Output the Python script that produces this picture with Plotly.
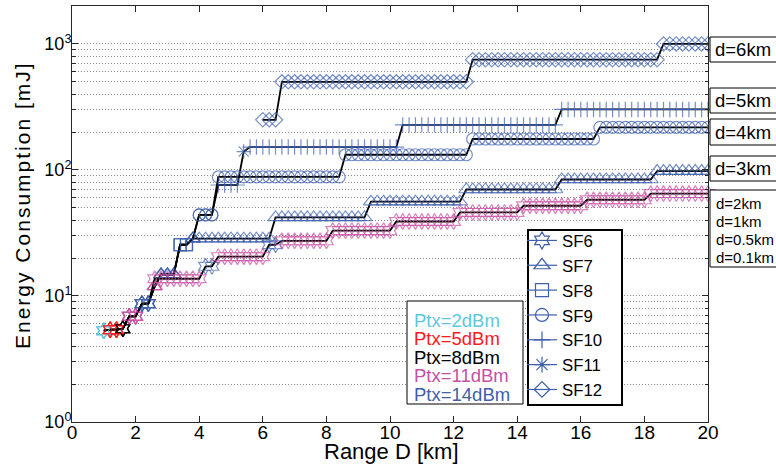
import math
import plotly.graph_objects as go

# ---------------- data ----------------
# range grid, km (one sample every 0.2 km)
D = [round(1.0 + 0.2 * i, 1) for i in range(96)]

# shared single-hop start (all curves)
common_start = [1.0, 1.2, 1.6, 1.8, 2.2]
common_end = [1.0, 1.4, 1.6, 2.0, 2.4]
common_E = [5.3, 5.4, 5.5, 6.9, 8.7]
common_sf = [6, 6, 6, 6, 6]
common_ptx = [2, 5, 8, 11, 14]

# curves d = 2, 1, 0.5, 0.1 km (coincide)
base_start = [2.6, 4.2, 4.6, 6.2, 6.6, 8.2, 10.2, 12.2, 14.2, 16.2, 18.2]
base_end = [4.0, 4.4, 6.0, 6.4, 8.0, 10.0, 12.0, 14.0, 16.0, 18.0, 20.0]
base_E = [13.7, 17.2, 20.5, 25.5, 27.4, 33, 39, 46, 52, 58, 65]
base_sf = [6, 6, 6, 6, 6, 6, 6, 6, 6, 6, 6]
base_ptx = [11, 14, 11, 14, 11, 11, 11, 11, 11, 11, 11]

# single-hop part shared by d >= 3 km
sh_start = [2.6, 2.8, 3.4]
sh_end = [2.6, 3.2, 3.6]
sh_E = [11.9, 14.8, 25.5]
sh_sf = [7, 7, 8]
sh_ptx = [11, 14, 14]

d3_start = [3.8, 6.4, 9.4, 12.4, 15.4, 18.4]
d3_end = [6.2, 9.2, 12.2, 15.2, 18.2, 20.0]
d3_E = [28.5, 42, 56, 70, 84, 98]
d3_sf = [7, 7, 7, 7, 7, 7]
d3_ptx = [14, 14, 14, 14, 14, 14]

d4_start = [3.8, 4.0, 4.6, 8.6, 12.6, 16.6]
d4_end = [3.8, 4.4, 8.4, 12.4, 16.4, 20.0]
d4_E = [28.5, 44, 88, 132, 176, 218]
d4_sf = [7, 9, 9, 9, 9, 9]
d4_ptx = [14, 14, 14, 14, 14, 14]

d5_start = [3.8, 4.0, 4.6, 5.4, 5.6, 10.4, 15.4]
d5_end = [3.8, 4.4, 5.2, 5.4, 10.2, 15.2, 20.0]
d5_E = [28.5, 44, 76, 140, 152, 228, 302]
d5_sf = [7, 9, 10, 11, 10, 10, 10]
d5_ptx = [14, 14, 14, 14, 14, 14, 14]

d6_start = [6.0, 6.6, 12.6, 18.6]
d6_end = [6.4, 12.4, 18.4, 20.0]
d6_E = [250, 500, 750, 1000]
d6_sf = [12, 12, 12, 12]
d6_ptx = [14, 14, 14, 14]

sf_names = ["SF6", "SF7", "SF8", "SF9", "SF10", "SF11", "SF12"]
ptx_labels = ["Ptx=2dBm", "Ptx=5dBm", "Ptx=8dBm", "Ptx=11dBm", "Ptx=14dBm"]
d_labels = ["d=6km", "d=5km", "d=4km", "d=3km"]
d_small_labels = ["d=2km", "d=1km", "d=0.5km", "d=0.1km"]

# ---------------- styles ----------------
PTX_COLOR = {2: "#5cc8dc", 5: "#ff1a1a", 8: "#000000", 11: "#c650a2", 14: "#3f5fac"}
SF_SYMBOL = {6: "hexagram-open", 7: "triangle-up-open", 8: "square-open",
             9: "circle-open", 10: "cross-thin-open", 11: "asterisk-open",
             12: "diamond-open"}
SF_SIZE = {6: 12, 7: 13, 8: 12, 9: 12, 10: 11, 11: 12, 12: 11}
BLUE = PTX_COLOR[14]
FONT = "Liberation Sans, Arial, sans-serif"


def expand(*segsets):
    xs, ys, sfs, pts = [], [], [], []
    for starts, ends, es, sfl, ptl in segsets:
        for s, e, en, sf, pt in zip(starts, ends, es, sfl, ptl):
            for x in D:
                if s - 1e-9 <= x <= e + 1e-9:
                    xs.append(x); ys.append(en); sfs.append(sf); pts.append(pt)
    return xs, ys, sfs, pts


common = (common_start, common_end, common_E, common_sf, common_ptx)
shared = (sh_start, sh_end, sh_E, sh_sf, sh_ptx)
curves = [
    expand((d6_start, d6_end, d6_E, d6_sf, d6_ptx)),
    expand(common, shared, (d5_start, d5_end, d5_E, d5_sf, d5_ptx)),
    expand(common, shared, (d4_start, d4_end, d4_E, d4_sf, d4_ptx)),
    expand(common, shared, (d3_start, d3_end, d3_E, d3_sf, d3_ptx)),
    expand(common, (base_start, base_end, base_E, base_sf, base_ptx)),
]

fig = go.Figure()
for xs, ys, sfs, pts in curves:
    fig.add_trace(go.Scatter(
        x=xs, y=ys, mode="lines+markers", showlegend=False, cliponaxis=False,
        line=dict(color="black", width=1.8),
        marker=dict(symbol=[SF_SYMBOL[s] for s in sfs],
                    size=[SF_SIZE[s] for s in sfs],
                    color=[PTX_COLOR[p] for p in pts],
                    line=dict(width=1.2)),
    ))

for name, sf in zip(sf_names, range(6, 13)):
    fig.add_trace(go.Scatter(
        x=[None], y=[None], mode="lines+markers", name=name,
        line=dict(color=BLUE, width=1.2),
        marker=dict(symbol=SF_SYMBOL[sf], size=SF_SIZE[sf] + 1, color=BLUE,
                    line=dict(width=1.2)),
    ))

# ---------------- layout ----------------
L, R, T, B = 72, 708, 6, 422
W, H = R - L, B - T


def fx(px):
    return (px - L) / W


def fy(py):
    return (B - py) / H


AX = "#262626"
GRID = "#8a8a8a"
fig.update_layout(
    width=776, height=465,
    margin=dict(l=L, r=776 - R, t=T, b=465 - B),
    paper_bgcolor="white", plot_bgcolor="white",
    font=dict(family=FONT, color="black"),
    xaxis=dict(range=[0, 20], dtick=2, tick0=0, showgrid=False, zeroline=False,
               showline=True, linecolor=AX, linewidth=1, mirror="ticks",
               ticks="inside", ticklen=6, tickcolor=AX, ticklabelstandoff=-7,
               tickfont=dict(size=19, family=FONT)),
    yaxis=dict(type="log", range=[0, math.log10(2000)],
               tickvals=[1, 10, 100, 1000],
               ticktext=["10<sup>0</sup>", "10<sup>1</sup>", "10<sup>2</sup>", "10<sup>3</sup>"],
               showgrid=True, gridcolor=GRID, griddash="1px,2px", gridwidth=1,
               zeroline=False, showline=True, linecolor=AX, linewidth=1,
               mirror="ticks", ticks="inside", ticklen=6, tickcolor=AX,
               ticklabelstandoff=-4,
               tickfont=dict(size=18, family=FONT),
               minor=dict(dtick="D1", ticks="inside", ticklen=3.5, tickcolor=AX,
                          showgrid=True, gridcolor=GRID, griddash="1px,2px",
                          gridwidth=1)),
    legend=dict(x=fx(522), y=fy(223), xanchor="left", yanchor="top",
                bgcolor="rgba(0,0,0,0)", borderwidth=0,
                font=dict(size=16.8, family=FONT, color="black"),
                itemwidth=30, tracegroupgap=0),
)

shapes = []
ann = []
# SF legend frame
shapes.append(dict(type="rect", xref="paper", yref="paper", x0=fx(528), x1=fx(622),
                   y0=fy(405), y1=fy(230), line=dict(color="black", width=2),
                   fillcolor="white", layer="above"))
# axis titles
ann.append(dict(text="Range D [km]", x=fx(391), y=fy(451), xref="paper", yref="paper",
                xanchor="center", yanchor="middle", showarrow=False,
                font=dict(size=22, family=FONT, color="black")))
ann.append(dict(text='<span style="letter-spacing:2px">Energy Consumption [mJ]</span>',
                x=fx(22), y=fy(205), xref="paper", yref="paper", textangle=-90,
                xanchor="center", yanchor="middle", showarrow=False,
                font=dict(size=21, family=FONT, color="black")))

# Ptx text box
shapes.append(dict(type="rect", xref="paper", yref="paper", x0=fx(407), x1=fx(523),
                   y0=fy(404), y1=fy(301), line=dict(color="black", width=1),
                   fillcolor="white", layer="above"))
for lab, p, yc in zip(ptx_labels, [2, 5, 8, 11, 14], [320, 338.5, 357, 375.5, 394]):
    ann.append(dict(text=lab, x=fx(412), y=fy(yc), xref="paper", yref="paper",
                    xanchor="left", yanchor="middle", showarrow=False,
                    font=dict(size=18.5, family=FONT, color=PTX_COLOR[p])))

# right-hand d labels
for lab, (y0, y1) in zip(d_labels, [(37, 62), (88, 113), (119, 145), (156, 181)]):
    shapes.append(dict(type="rect", xref="paper", yref="paper", x0=fx(710), x1=fx(790),
                       y0=fy(y1), y1=fy(y0), line=dict(color="black", width=1),
                       fillcolor="white", layer="above"))
    ann.append(dict(text=lab, x=fx(713), y=fy((y0 + y1) / 2), xref="paper", yref="paper",
                    xanchor="left", yanchor="middle", showarrow=False,
                    font=dict(size=18.5, family=FONT, color="black")))
shapes.append(dict(type="rect", xref="paper", yref="paper", x0=fx(710), x1=fx(790),
                   y0=fy(267), y1=fy(190), line=dict(color="black", width=1),
                   fillcolor="white", layer="above"))
for lab, yc in zip(d_small_labels, [203, 221, 239, 257]):
    ann.append(dict(text=lab, x=fx(714), y=fy(yc), xref="paper", yref="paper",
                    xanchor="left", yanchor="middle", showarrow=False,
                    font=dict(size=15, family=FONT, color="black")))

fig.update_layout(shapes=shapes, annotations=ann)
fig.write_html("out.html", config={"displayModeBar": False},
               post_script="document.body.style.margin='0px';")
